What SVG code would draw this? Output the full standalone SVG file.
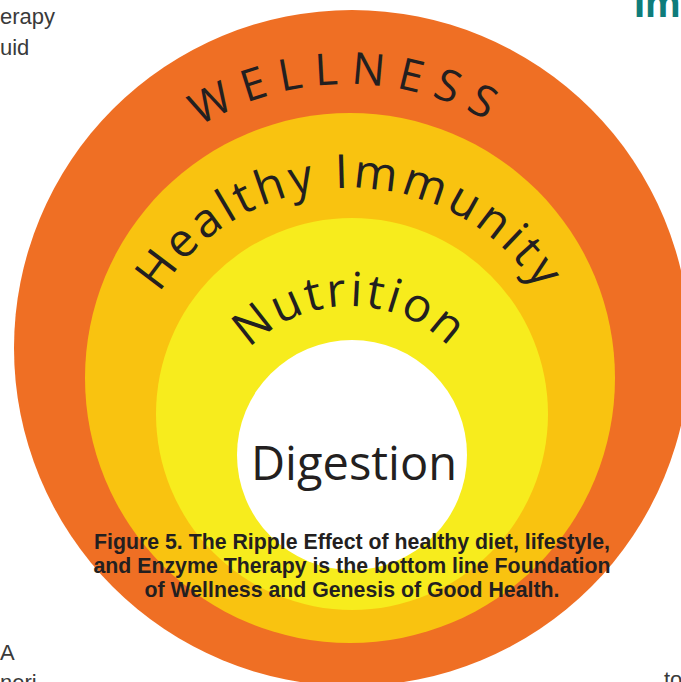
<svg xmlns="http://www.w3.org/2000/svg" width="681" height="682" viewBox="0 0 681 682">
<style>
.ring-text{font-family:"Open Sans","Noto Sans",sans-serif;fill:#231F20;}
.page{font-family:"Liberation Sans",Arial,sans-serif;fill:#3A3A3A;font-size:22px;}
.cap{font-family:"Liberation Sans",Arial,sans-serif;font-weight:bold;fill:#231F20;font-size:21.3px;text-anchor:middle;}
</style>
<defs>
<path id="pWell" d="M 168.7 149.3 A 279 279 0 0 1 527.3 149.3"/>
<path id="pImm" d="M 125 413 A 225 225 0 0 1 575 413"/>
<path id="pNut" d="M 210 446 A 140 140 0 0 1 490 446"/>
</defs>
<rect width="681" height="682" fill="#FFFFFF"/>
<g id="page-text">
<text class="page" x="0" y="24" font-size="24.5">erapy</text>
<text class="page" x="0" y="55">uid</text>
<text class="page" x="0" y="660">A</text>
<text class="page" x="0" y="690">neri</text>
<text class="page" x="664" y="687">to</text>
<text x="634" y="17" font-family="Liberation Sans,Arial,sans-serif" font-weight="bold" font-size="40" fill="#0E7C7B">Im</text>
</g>
<g id="wellness">
<circle cx="352" cy="348" r="338" fill="#EF6F24"/>
<text class="ring-text" font-size="44" letter-spacing="12"><textPath href="#pWell" startOffset="50%" text-anchor="middle">WELLNESS</textPath></text>
</g>
<g id="healthy-immunity">
<circle cx="350" cy="378" r="265" fill="#F9C310"/>
<text class="ring-text" font-size="47" letter-spacing="4"><textPath href="#pImm" startOffset="50%" text-anchor="middle">Healthy Immunity</textPath></text>
</g>
<g id="nutrition">
<circle cx="352" cy="414" r="196" fill="#F7EC1D"/>
<text class="ring-text" font-size="47" letter-spacing="3"><textPath href="#pNut" startOffset="50%" text-anchor="middle">Nutrition</textPath></text>
</g>
<g id="digestion">
<circle cx="352" cy="455" r="115" fill="#FFFFFF"/>
<text class="ring-text" x="354" y="480" font-size="47" text-anchor="middle">Digestion</text>
</g>
<g id="caption">
<text class="cap" x="352" y="549">Figure 5. The Ripple Effect of healthy diet, lifestyle,</text>
<text class="cap" x="352" y="573">and Enzyme Therapy is the bottom line Foundation</text>
<text class="cap" x="352" y="597">of Wellness and Genesis of Good Health.</text>
</g>
</svg>
